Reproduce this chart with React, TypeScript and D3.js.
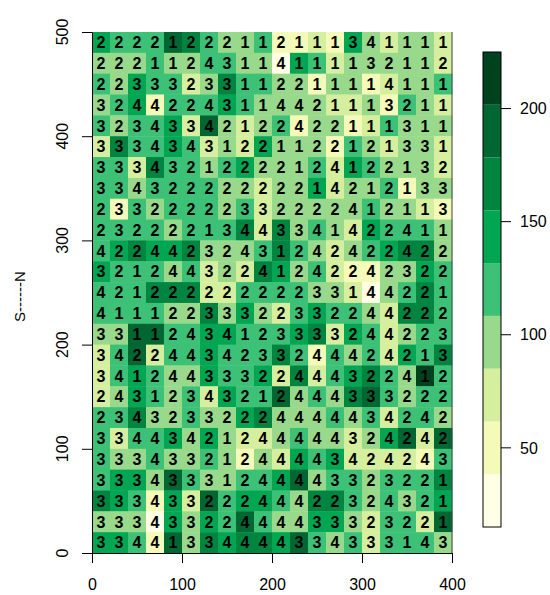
import { useRef, useEffect } from 'react';
import * as d3 from 'd3';

// cell centres (m), west->east and north->south
const eastings = [10, 30, 50, 70, 90, 110, 130, 150, 170, 190, 210, 230, 250, 270, 290, 310, 330, 350, 370, 390];
const northings = [490, 470, 450, 430, 410, 390, 370, 350, 330, 310, 290, 270, 250, 230, 210, 190, 170, 150, 130, 110, 90, 70, 50, 30, 10];

// fill value of each cell, one row per northing (top row first)
const cellValues = [
    [143, 120, 120, 120, 190, 167, 120, 97, 97, 120, 50, 50, 73, 50, 143, 97, 73, 97, 97, 73],
    [97, 97, 97, 120, 97, 97, 120, 120, 97, 97, 15, 143, 120, 73, 97, 97, 97, 97, 97, 73],
    [120, 97, 143, 120, 120, 73, 97, 167, 120, 120, 97, 97, 50, 97, 97, 50, 73, 97, 97, 120],
    [97, 120, 143, 50, 120, 120, 120, 143, 120, 97, 97, 97, 97, 73, 73, 97, 50, 120, 97, 73],
    [120, 97, 120, 120, 143, 73, 190, 97, 73, 97, 120, 50, 97, 97, 50, 73, 120, 97, 97, 97],
    [73, 167, 120, 120, 143, 120, 73, 97, 73, 143, 97, 97, 97, 50, 120, 97, 73, 97, 97, 73],
    [120, 120, 73, 167, 120, 120, 97, 120, 143, 97, 97, 97, 120, 73, 143, 120, 97, 97, 97, 73],
    [120, 120, 97, 120, 120, 120, 120, 97, 97, 73, 97, 97, 143, 73, 97, 97, 120, 50, 97, 97],
    [120, 50, 120, 97, 120, 120, 120, 97, 120, 73, 97, 97, 97, 97, 97, 120, 97, 97, 73, 50],
    [120, 120, 120, 120, 97, 120, 120, 120, 167, 73, 167, 97, 120, 97, 73, 143, 120, 120, 120, 97],
    [120, 143, 167, 143, 143, 167, 97, 97, 97, 120, 167, 120, 97, 73, 97, 120, 143, 167, 167, 97],
    [143, 120, 120, 120, 97, 120, 73, 97, 73, 167, 143, 97, 120, 73, 50, 50, 97, 97, 143, 120],
    [120, 120, 120, 167, 167, 167, 73, 73, 120, 120, 120, 120, 97, 97, 73, 27, 97, 120, 167, 120],
    [120, 120, 120, 120, 97, 97, 167, 97, 143, 97, 73, 120, 143, 120, 120, 97, 73, 167, 167, 120],
    [97, 97, 190, 190, 120, 120, 143, 143, 120, 120, 120, 143, 167, 73, 143, 120, 73, 97, 120, 120],
    [73, 120, 190, 73, 120, 120, 143, 120, 120, 120, 167, 120, 50, 120, 97, 120, 73, 143, 120, 167],
    [73, 120, 143, 120, 97, 97, 143, 120, 120, 143, 73, 167, 73, 120, 143, 167, 120, 97, 225, 120],
    [73, 97, 143, 120, 97, 120, 73, 143, 120, 120, 190, 97, 120, 97, 167, 190, 120, 97, 120, 120],
    [120, 120, 167, 97, 97, 120, 97, 97, 143, 167, 97, 97, 97, 120, 97, 120, 73, 120, 120, 97],
    [120, 73, 120, 120, 143, 97, 143, 97, 73, 73, 97, 120, 97, 97, 73, 97, 143, 190, 73, 190],
    [120, 97, 97, 120, 97, 97, 120, 97, 50, 97, 73, 143, 120, 143, 73, 73, 73, 73, 50, 120],
    [120, 143, 143, 97, 190, 120, 97, 97, 120, 120, 143, 190, 97, 120, 120, 97, 120, 120, 120, 167],
    [167, 143, 120, 50, 143, 73, 190, 120, 143, 143, 120, 97, 167, 167, 120, 97, 120, 97, 120, 143],
    [97, 97, 97, 27, 143, 97, 143, 120, 190, 120, 97, 97, 143, 143, 97, 73, 120, 120, 73, 190],
    [143, 143, 120, 50, 190, 97, 167, 143, 167, 167, 143, 190, 120, 97, 120, 73, 120, 120, 120, 97],
];

// class number printed in each cell
const cellLabels = [
    '22221222112111341111',
    '22211243114111132112',
    '22333233112211114111',
    '32442243114421113211',
    '32343342122422111311',
    '33343431221122121331',
    '33343212222124122132',
    '33432222222214212133',
    '23322222332222412113',
    '23222213443341422411',
    '42244232431242422422',
    '32124432241242242322',
    '42122222222233144221',
    '41112233322332244222',
    '33112434123333244223',
    '34224434233244424213',
    '34124433322444322412',
    '24312343212444333222',
    '23432332224444434242',
    '33443421244444324242',
    '33343321244443424243',
    '33343331244443323221',
    '33343322244422324321',
    '33343322444433323221',
    '33441334444334333143',
];

const palette = ['#FFFFE5', '#F4FAB8', '#D6EF9F', '#98D98B', '#3DC176', '#00A651', '#008541', '#006632', '#00421E'];
const xTicks = [0, 100, 200, 300, 400];
const yTicks = [0, 100, 200, 300, 400, 500];
const legendTicks = [50, 100, 150, 200];

const FONT = '"Liberation Sans", Arial, sans-serif';

function App() {
    const svgRef = useRef(null);

    useEffect(() => {
        const svg = d3.select(svgRef.current);
        svg.selectAll('*').remove();

        const x = d3.scaleLinear().domain([0, 400]).range([92, 452]);
        const y = d3.scaleLinear().domain([0, 500]).range([553, 32]);
        const zRange = d3.extent(cellValues.flat());
        const color = d3.scaleQuantize().domain(zRange).range(palette);

        const half = (eastings[1] - eastings[0]) / 2;
        const cells = cellValues.flatMap((row, r) =>
            row.map((v, c) => ({ e: eastings[c], n: northings[r], v, label: cellLabels[r][c] }))
        );

        const plot = svg.append('g');
        plot.selectAll('rect')
            .data(cells)
            .enter()
            .append('rect')
            .attr('x', d => x(d.e - half))
            .attr('y', d => y(d.n + half))
            .attr('width', x(2 * half) - x(0) + 0.4)
            .attr('height', y(0) - y(2 * half) + 0.4)
            .attr('fill', d => color(d.v));

        plot.selectAll('text')
            .data(cells)
            .enter()
            .append('text')
            .attr('x', d => x(d.e))
            .attr('y', d => y(d.n))
            .attr('dy', '0.36em')
            .attr('text-anchor', 'middle')
            .attr('font-family', FONT)
            .attr('font-weight', 'bold')
            .attr('font-size', 16)
            .attr('fill', '#000')
            .text(d => d.label);

        // right edge of the plot box
        svg.append('line')
            .attr('x1', x(400)).attr('x2', x(400))
            .attr('y1', y(0)).attr('y2', y(500))
            .attr('stroke', '#444');

        // bottom axis
        const xAxis = svg.append('g')
            .attr('transform', `translate(0, ${y(0)})`)
            .call(d3.axisBottom(x).tickValues(xTicks).tickSize(10).tickSizeOuter(0).tickPadding(16));
        xAxis.selectAll('text').attr('font-family', FONT).attr('font-size', 16).attr('fill', '#000');
        xAxis.selectAll('line, path').attr('stroke', '#000');

        // left axis, labels turned parallel to the axis
        const yAxis = svg.append('g')
            .attr('transform', `translate(${x(0)}, 0)`)
            .call(d3.axisLeft(y).tickValues(yTicks).tickSize(10).tickSizeOuter(0).tickFormat(() => ''));
        yAxis.selectAll('line, path').attr('stroke', '#000');
        svg.append('g')
            .selectAll('text')
            .data(yTicks)
            .enter()
            .append('text')
            .attr('transform', d => `translate(68, ${y(d)}) rotate(-90)`)
            .attr('text-anchor', 'middle')
            .attr('font-family', FONT)
            .attr('font-size', 16)
            .text(d => d);

        svg.append('text')
            .attr('transform', `translate(25, ${y(250) + 4}) rotate(-90)`)
            .attr('text-anchor', 'middle')
            .attr('font-family', FONT)
            .attr('font-size', 15)
            .text('S------N');

        // colour key, equal bands over the data range
        const yLeg = d3.scaleLinear().domain(zRange).range([527, 52]);
        const edges = [zRange[0], ...color.thresholds(), zRange[1]];
        const key = svg.append('g');
        key.selectAll('rect')
            .data(palette)
            .enter()
            .append('rect')
            .attr('x', 483)
            .attr('width', 18)
            .attr('y', (_, i) => yLeg(edges[i + 1]))
            .attr('height', (_, i) => yLeg(edges[i]) - yLeg(edges[i + 1]))
            .attr('fill', d => d);
        key.append('rect')
            .attr('x', 483).attr('y', yLeg(zRange[1]))
            .attr('width', 18).attr('height', yLeg(zRange[0]) - yLeg(zRange[1]))
            .attr('fill', 'none').attr('stroke', '#000');
        key.selectAll('line')
            .data(legendTicks)
            .enter()
            .append('line')
            .attr('x1', 501).attr('x2', 511)
            .attr('y1', d => yLeg(d)).attr('y2', d => yLeg(d))
            .attr('stroke', '#000');
        key.selectAll('text')
            .data(legendTicks)
            .enter()
            .append('text')
            .attr('x', 520)
            .attr('y', d => yLeg(d))
            .attr('dy', '0.36em')
            .attr('font-family', FONT)
            .attr('font-size', 16)
            .text(d => d);
    }, []);

    return (
        <div style={{ position: 'absolute', left: 0, top: 0 }}>
            <svg ref={svgRef} width={550} height={595} style={{ display: 'block', background: '#fff' }}></svg>
        </div>
    );
}

export default App;
